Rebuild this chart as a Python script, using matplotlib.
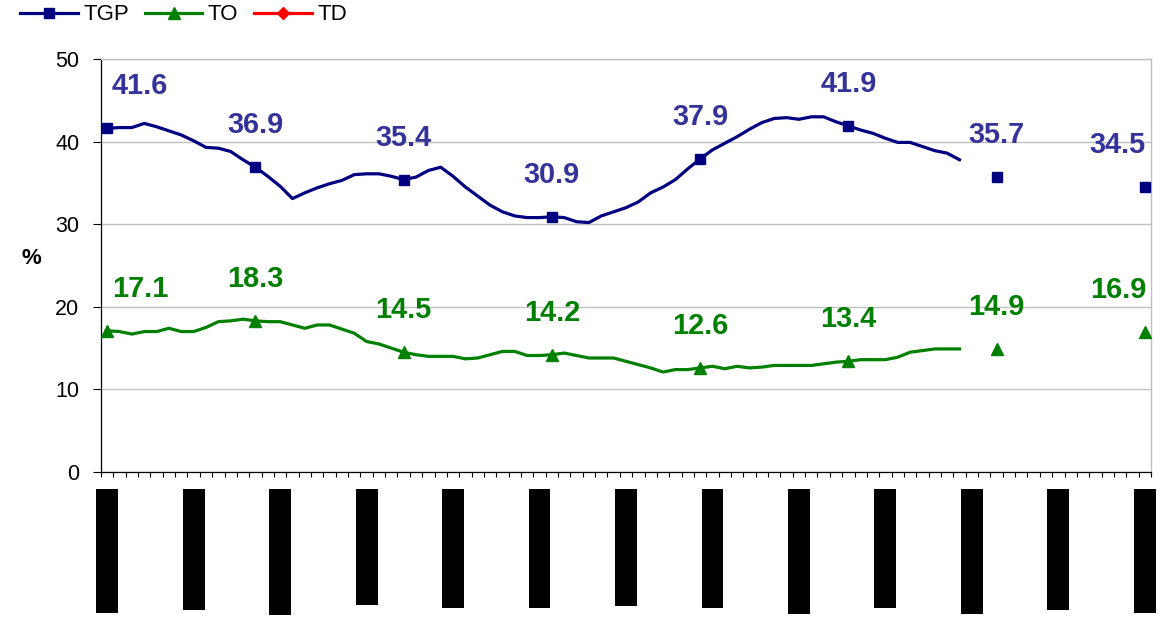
import numpy as np
import matplotlib
matplotlib.use("Agg")
import matplotlib.pyplot as plt
from matplotlib.lines import Line2D

plt.rcParams['font.family'] = ['Liberation Sans', 'DejaVu Sans']

# Rolling-quarter period labels (one every 7 periods)
period_labels = [
    "Ene - Mar 2003", "Ago - Oct 2003", "Mar - May 2004", "Oct - Dic 2004",
    "May - Jul 2005", "Dic - Feb 2006", "Jul - Sep 2006", "Feb - Abr 2007",
    "Sep - Nov 2007", "Abr - Jun 2008", "Nov - Ene 2009", "Jun - Ago 2009",
    "Ene - Mar 2010",
]

# Tasa global de participación (%), monthly rolling series
tgp_monthly = [
    41.6, 41.7, 41.7, 42.2, 41.8, 41.3, 40.8, 40.1, 39.3, 39.2, 38.8, 37.8,
    36.9, 35.8, 34.6, 33.1, 33.8, 34.4, 34.9, 35.3, 36.0, 36.1, 36.1, 35.8,
    35.4, 35.7, 36.5, 36.9, 35.8, 34.5, 33.4, 32.3, 31.5, 31.0, 30.8, 30.8,
    30.9, 30.8, 30.3, 30.2, 31.0, 31.5, 32.0, 32.7, 33.8, 34.5, 35.4, 36.7,
    37.9, 39.0, 39.8, 40.6, 41.5, 42.3, 42.8, 42.9, 42.7, 43.0, 43.0, 42.4,
    41.9, 41.4, 41.0, 40.4, 39.9, 39.9, 39.4, 38.9, 38.6, 37.8,
]
# Later isolated observations
tgp_tail = [None, None, 35.7, None, None, None, None, None, None,
            None, None, None, None, None, 34.5]

# Tasa de ocupación (%)
to_monthly = [
    17.1, 17.0, 16.7, 17.0, 17.0, 17.4, 17.0, 17.0, 17.5, 18.2, 18.3, 18.5,
    18.3, 18.2, 18.2, 17.8, 17.4, 17.8, 17.8, 17.3, 16.8, 15.8, 15.5, 15.0,
    14.5, 14.2, 14.0, 14.0, 14.0, 13.7, 13.8, 14.2, 14.6, 14.6, 14.1, 14.1,
    14.2, 14.4, 14.1, 13.8, 13.8, 13.8, 13.4, 13.0, 12.6, 12.1, 12.4, 12.4,
    12.6, 12.8, 12.5, 12.8, 12.6, 12.7, 12.9, 12.9, 12.9, 12.9, 13.1, 13.3,
    13.4, 13.6, 13.6, 13.6, 13.9, 14.5, 14.7, 14.9, 14.9, 14.9,
]
to_tail = [None, None, 14.9, None, None, None, None, None, None,
           None, None, None, None, None, 16.9]

# Tasa de desocupación: no values available
td_values = []

tgp = np.array(tgp_monthly + tgp_tail, dtype=float)
to = np.array(to_monthly + to_tail, dtype=float)
n = len(tgp)
x = np.arange(n)
label_step = 12
tick_step = 7

TGP_LINE = '#000080'
TGP_TEXT = '#333399'
TO_COLOR = '#008000'
TD_COLOR = '#FF0000'

fig = plt.figure(figsize=(11.6, 6.19), dpi=100)
ax = fig.add_axes([101 / 1160, 1 - 472 / 619, 1050 / 1160, 413 / 619])

ax.plot(x, tgp, color=TGP_LINE, lw=2.3, marker='s', ms=7.2,
        markevery=label_step, zorder=3, clip_on=True)
ax.plot(x, to, color=TO_COLOR, lw=2.3, marker='^', ms=8.5,
        markevery=label_step, zorder=3)
if td_values:
    ax.plot(np.arange(len(td_values)), td_values, color=TD_COLOR, lw=2.3,
            marker='D', ms=6)

ax.set_xlim(-0.5, n - 0.5)
ax.set_ylim(0, 50)
ax.set_yticks(range(0, 51, 10))
ax.set_xticks(np.arange(-0.5, n, 1))
ax.tick_params(axis='x', length=3.6, width=0.8, labelbottom=False,
               color='black')
ax.tick_params(axis='y', length=6, width=0.8, pad=9.5, labelsize=15.5)
ax.yaxis.grid(True, color='#c0c0c0', lw=1.0, zorder=0)
ax.set_axisbelow(True)
for side in ('top', 'right'):
    ax.spines[side].set_color('#c0c0c0')
    ax.spines[side].set_linewidth(1.0)
for side in ('left', 'bottom'):
    ax.spines[side].set_color('black')
    ax.spines[side].set_linewidth(0.9)

last = n - 1
for i in range(0, n, label_step):
    dx = 33 if i == 0 else (-27 if i == last else 0)
    ax.annotate(f"{tgp[i]:.1f}", (i, tgp[i]), xytext=(dx, 42),
                textcoords='offset pixels', ha='center', va='center',
                color=TGP_TEXT, fontsize=20.8, fontweight='bold',
                annotation_clip=False)
    ax.annotate(f"{to[i]:.1f}", (i, to[i]), xytext=(dx, 42),
                textcoords='offset pixels', ha='center', va='center',
                color=TO_COLOR, fontsize=20.8, fontweight='bold',
                annotation_clip=False)

# Period labels drawn as rotated text on solid black boxes
for i, lab in zip(range(0, n, tick_step), period_labels):
    ax.annotate(lab, xy=(i, 0), xycoords=('data', 'axes fraction'),
                xytext=(0, -20), textcoords='offset pixels', rotation=90,
                ha='center', va='top', fontsize=12.3, color='black',
                bbox=dict(boxstyle='square,pad=0.2', fc='black',
                          ec='black', lw=0),
                annotation_clip=False)

fig.text(31 / 1160, 1 - 258 / 619, '%', ha='center', va='center',
         fontsize=16, fontweight='bold')

handles = [
    Line2D([], [], color=TGP_LINE, lw=2.3, marker='s', ms=7.2),
    Line2D([], [], color=TO_COLOR, lw=2.3, marker='^', ms=8.5),
    Line2D([], [], color=TD_COLOR, lw=2.3, marker='D', ms=6),
]
fig.legend(handles, ['TGP', 'TO', 'TD'], loc='center left',
           bbox_to_anchor=(20 / 1160, 1 - 15 / 619), ncol=3, frameon=False,
           fontsize=16, handlelength=2.6, handletextpad=0.25,
           columnspacing=0.7, borderpad=0, borderaxespad=0)

fig.savefig('out.png', dpi=100)
